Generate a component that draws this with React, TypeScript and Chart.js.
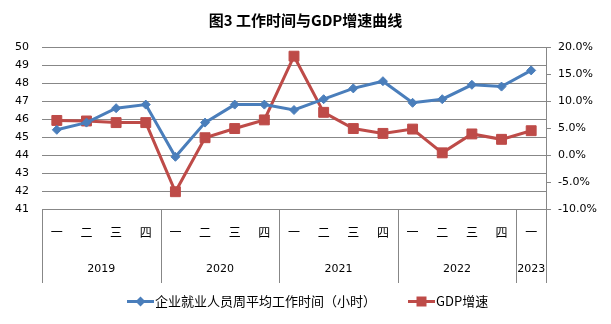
import React, { useEffect, useRef } from "react";
import { Chart, registerables } from "chart.js";

Chart.register(...registerables);

const titleText = "图3 工作时间与GDP增速曲线";
const quarters = ["一", "二", "三", "四", "一", "二", "三", "四", "一", "二", "三", "四", "一", "二", "三", "四", "一"];
const years = ["2019", "2020", "2021", "2022", "2023"];
const yearSpans = [4, 4, 4, 4, 1];
const hoursLabel = "企业就业人员周平均工作时间（小时）";
const gdpLabel = "GDP增速";
const hours = [45.4, 45.8, 46.6, 46.8, 43.9, 45.8, 46.8, 46.8, 46.5, 47.1, 47.7, 48.1, 46.9, 47.1, 47.9, 47.8, 48.7];
const gdp = [6.4, 6.3, 6.0, 6.0, -6.8, 3.2, 4.9, 6.5, 18.3, 7.9, 4.9, 4.0, 4.8, 0.4, 3.9, 2.9, 4.5];

const BLUE = "#4A7EBB";
const RED = "#BE4B48";
const GRID = "#878787";
const CJK = "'Noto Sans CJK SC', 'DejaVu Sans', sans-serif";
const NUM = "'DejaVu Sans', sans-serif";

const extrasPlugin = {
  id: "extras",
  afterDraw(chart: any) {
    const ctx = chart.ctx;
    const x = chart.scales.x;
    ctx.save();
    // title
    ctx.fillStyle = "#000";
    ctx.font = `bold 15px ${CJK}`;
    ctx.textAlign = "center";
    ctx.textBaseline = "middle";
    ctx.fillText(titleText, chart.width / 2, 20);

    // separators and year labels
    const half = (x.getPixelForValue(1) - x.getPixelForValue(0)) / 2;
    const top = x.top;
    const bottom = x.bottom;
    ctx.strokeStyle = GRID;
    ctx.lineWidth = 1;
    let idx = 0;
    const bounds: number[] = [idx];
    yearSpans.forEach((s) => {
      idx += s;
      bounds.push(idx);
    });
    bounds.forEach((b) => {
      const px = Math.round(x.getPixelForValue(b) - half) + 0.5;
      ctx.beginPath();
      ctx.moveTo(px, top);
      ctx.lineTo(px, bottom);
      ctx.stroke();
    });
    ctx.font = `11px ${NUM}`;
    ctx.fillStyle = "#000";
    ctx.textAlign = "center";
    ctx.textBaseline = "middle";
    years.forEach((y, i) => {
      const a = x.getPixelForValue(bounds[i]) - half;
      const b = x.getPixelForValue(bounds[i + 1]) - half;
      ctx.fillText(y, (a + b) / 2, 269);
    });

    // legend
    const ly = 301.5;
    const items = [
      { label: hoursLabel, color: BLUE, x0: 127, style: "diamond" },
      { label: gdpLabel, color: RED, x0: 408, style: "square" },
    ];
    items.forEach((it) => {
      ctx.strokeStyle = it.color;
      ctx.lineWidth = 3;
      ctx.beginPath();
      ctx.moveTo(it.x0, ly);
      ctx.lineTo(it.x0 + 27, ly);
      ctx.stroke();
      ctx.fillStyle = it.color;
      const cx = it.x0 + 13.5;
      ctx.beginPath();
      if (it.style === "diamond") {
        ctx.moveTo(cx - 5, ly);
        ctx.lineTo(cx, ly - 5);
        ctx.lineTo(cx + 5, ly);
        ctx.lineTo(cx, ly + 5);
        ctx.closePath();
      } else {
        ctx.rect(cx - 5, ly - 5, 10, 10);
      }
      ctx.fill();
      ctx.fillStyle = "#000";
      ctx.font = `13px ${CJK}`;
      ctx.textAlign = "left";
      ctx.textBaseline = "middle";
      ctx.fillText(it.label, it.x0 + 28, ly);
    });
    ctx.restore();
  },
};

export default function App() {
  const ref = useRef<HTMLCanvasElement>(null);
  useEffect(() => {
    document.body.style.margin = "0";
    const chart = new Chart(ref.current as HTMLCanvasElement, {
      type: "line",
      data: {
        labels: quarters,
        datasets: [
          {
            label: hoursLabel,
            data: hours,
            yAxisID: "y",
            borderColor: BLUE,
            backgroundColor: BLUE,
            borderWidth: 3,
            pointStyle: "rectRot",
            pointRadius: 4.5,
            pointBorderWidth: 1,
            tension: 0,
          },
          {
            label: gdpLabel,
            data: gdp,
            yAxisID: "y1",
            borderColor: RED,
            backgroundColor: RED,
            borderWidth: 3,
            pointStyle: "rect",
            pointRadius: 7,
            pointBorderWidth: 1,
            tension: 0,
          },
        ],
      },
      options: {
        animation: false,
        responsive: false,
        maintainAspectRatio: false,
        layout: { padding: { top: 47, bottom: 41, left: 0, right: 0 } },
        plugins: { legend: { display: false }, title: { display: false }, tooltip: { enabled: false } },
        scales: {
          x: {
            type: "category",
            offset: true,
            grid: { display: false },
            border: { display: false },
            ticks: { color: "#000", font: { family: CJK, size: 12 }, padding: 8, maxRotation: 0, autoSkip: false },
            afterFit: (s: any) => {
              s.height = 74;
            },
          },
          y: {
            position: "left",
            min: 41,
            max: 50,
            ticks: { stepSize: 1, color: "#000", font: { family: NUM, size: 11 }, padding: 13 },
            grid: { color: GRID, drawTicks: false, lineWidth: 1 },
            border: { display: false },
            afterFit: (s: any) => {
              s.width = 42;
            },
          },
          y1: {
            position: "right",
            min: -10,
            max: 20,
            ticks: {
              stepSize: 5,
              color: "#000",
              font: { family: NUM, size: 11 },
              padding: 7,
              callback: (v: any) => `${Number(v).toFixed(1)}%`,
            },
            grid: { drawOnChartArea: false, color: GRID, tickLength: 5 },
            border: { display: true, color: GRID },
            afterFit: (s: any) => {
              s.width = 65;
            },
          },
        },
      },
      plugins: [extrasPlugin],
    });
    return () => chart.destroy();
  }, []);
  return (
    <div style={{ position: "absolute", left: 0, top: 0, width: 611, height: 324, background: "#fff" }}>
      <canvas ref={ref} width={611} height={324} style={{ width: 611, height: 324 }} />
    </div>
  );
}
